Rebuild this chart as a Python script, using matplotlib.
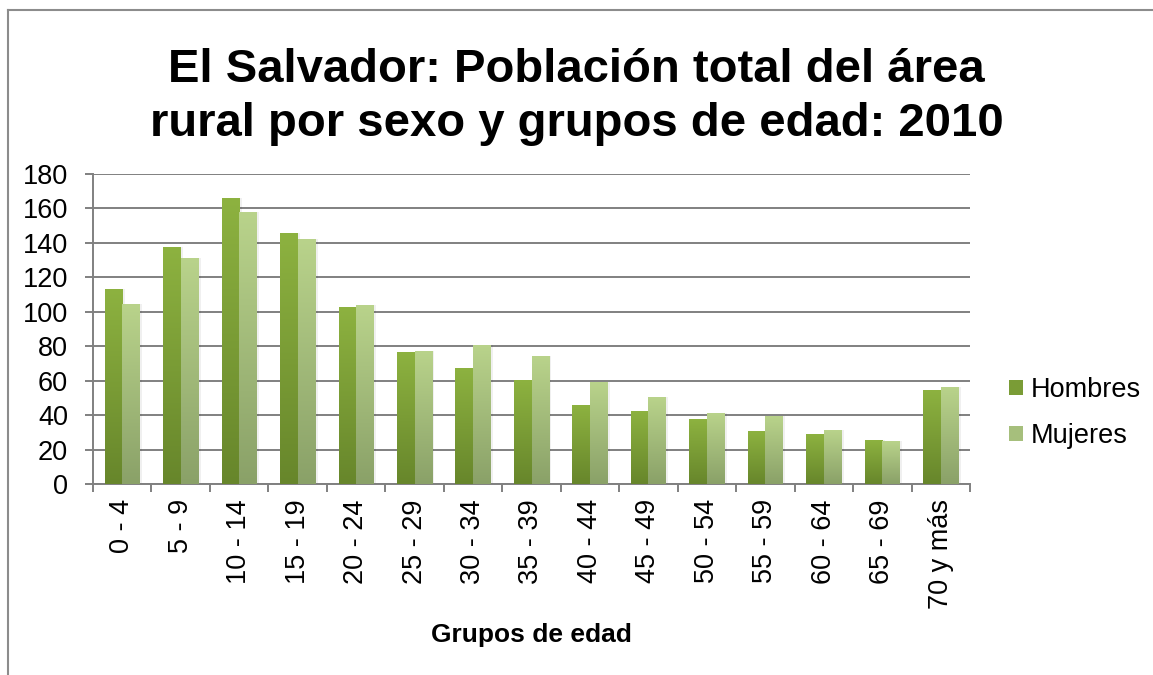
import numpy as np
import matplotlib
import matplotlib.pyplot as plt
from matplotlib.colors import LinearSegmentedColormap
from matplotlib.patches import Patch
from matplotlib.lines import Line2D

matplotlib.use('Agg')
plt.rcParams['font.family'] = ['Liberation Sans', 'DejaVu Sans']

# ------------------------ Data ------------------------
grupos = ["0 - 4", "5 - 9", "10 - 14", "15 - 19", "20 - 24", "25 - 29", "30 - 34",
          "35 - 39", "40 - 44", "45 - 49", "50 - 54", "55 - 59", "60 - 64", "65 - 69",
          "70 y más"]
hombres = [113.0, 137.4, 165.8, 145.5, 102.6, 76.5, 67.2, 60.3, 45.8, 42.3,
           37.7, 30.7, 29.0, 25.5, 54.5]
mujeres = [104.3, 131.0, 157.7, 142.0, 103.8, 77.1, 80.6, 74.2, 59.1, 50.4,
           41.2, 39.4, 31.3, 24.9, 56.2]
y_ticks = [0, 20, 40, 60, 80, 100, 120, 140, 160, 180]

# colours (top, bottom) of the gradient fills
col_h = ("#8db240", "#67862b")
col_m = ("#b9d38b", "#8aa168")
grid_col = "#808080"

# ------------------------ Figure ------------------------
fig = plt.figure(figsize=(11.53, 6.75), dpi=100)
ax = fig.add_axes([93/1153, 1 - 484/675, (970 - 93)/1153, (484 - 174)/675])

x = np.arange(len(grupos))
w = 0.30


def gradient_bars(bars, cols):
    cmap = LinearSegmentedColormap.from_list("g", [cols[1], cols[0]])
    grad = np.linspace(0, 1, 256).reshape(-1, 1)
    for b in bars:
        x0, y0 = b.get_x(), b.get_y()
        bw, bh = b.get_width(), b.get_height()
        # soft shadow on the right
        ax.bar(x0 + bw / 2 + 0.04, bh, bw, bottom=y0, color="#000000", alpha=0.06,
               zorder=2.5, linewidth=0)
        im = ax.imshow(grad, cmap=cmap, origin="lower", aspect="auto",
                       extent=[x0, x0 + bw, y0, y0 + bh], zorder=3)
        im.set_clip_path(b)
        b.set_facecolor("none")


bh_ = ax.bar(x - w / 2, hombres, w, zorder=3, linewidth=0)
bm_ = ax.bar(x + w / 2, mujeres, w, zorder=3.1, linewidth=0)
gradient_bars(bh_, col_h)
gradient_bars(bm_, col_m)

ax.set_xlim(-0.5, len(grupos) - 0.5)
ax.set_ylim(0, 180)
ax.set_yticks(y_ticks)
ax.set_yticklabels([str(v) for v in y_ticks], fontsize=19.5)
ax.set_xticks(x)
ax.set_xticklabels(grupos, rotation=90, fontsize=19.5)
ax.set_xticks(np.arange(-0.5, len(grupos), 1), minor=True)
ax.tick_params(axis="x", which="major", length=0, pad=11)
ax.tick_params(axis="x", which="minor", length=6, width=1.4, color=grid_col, direction="out")
ax.tick_params(axis="y", length=6, width=1.4, color=grid_col, pad=12)

ax.yaxis.grid(True, color=grid_col, linewidth=1.4, zorder=0)
ax.set_axisbelow(True)
for s in ["top", "right"]:
    ax.spines[s].set_visible(False)
for s in ["left", "bottom"]:
    ax.spines[s].set_color(grid_col)
    ax.spines[s].set_linewidth(1.4)

ax.set_xlabel("Grupos de edad", fontsize=19, fontweight="bold", labelpad=10)

fig.text(0.5, 1 - 97/675, "El Salvador: Población total del área\nrural por sexo y grupos de edad: 2010",
         ha="center", va="center", fontsize=34, fontweight="bold", linespacing=1.32)

handles = [Patch(facecolor="#7a9c36", edgecolor="none"),
           Patch(facecolor="#a6bf7c", edgecolor="none")]
fig.legend(handles, ["Hombres", "Mujeres"], loc="center left",
           bbox_to_anchor=(1009/1153, 1 - 413/675), frameon=False, fontsize=19.5,
           handlelength=0.5, handleheight=0.5, handletextpad=0.3, labelspacing=0.75,
           borderpad=0, borderaxespad=0)

# outer chart frame (top and left edges)
fig.add_artist(Line2D([8/1153, 1], [1 - 10/675, 1 - 10/675], color="#8c8c8c", lw=1.5))
fig.add_artist(Line2D([8/1153, 8/1153], [0, 1 - 10/675], color="#8c8c8c", lw=1.5))

fig.savefig("out.png", dpi=100)
